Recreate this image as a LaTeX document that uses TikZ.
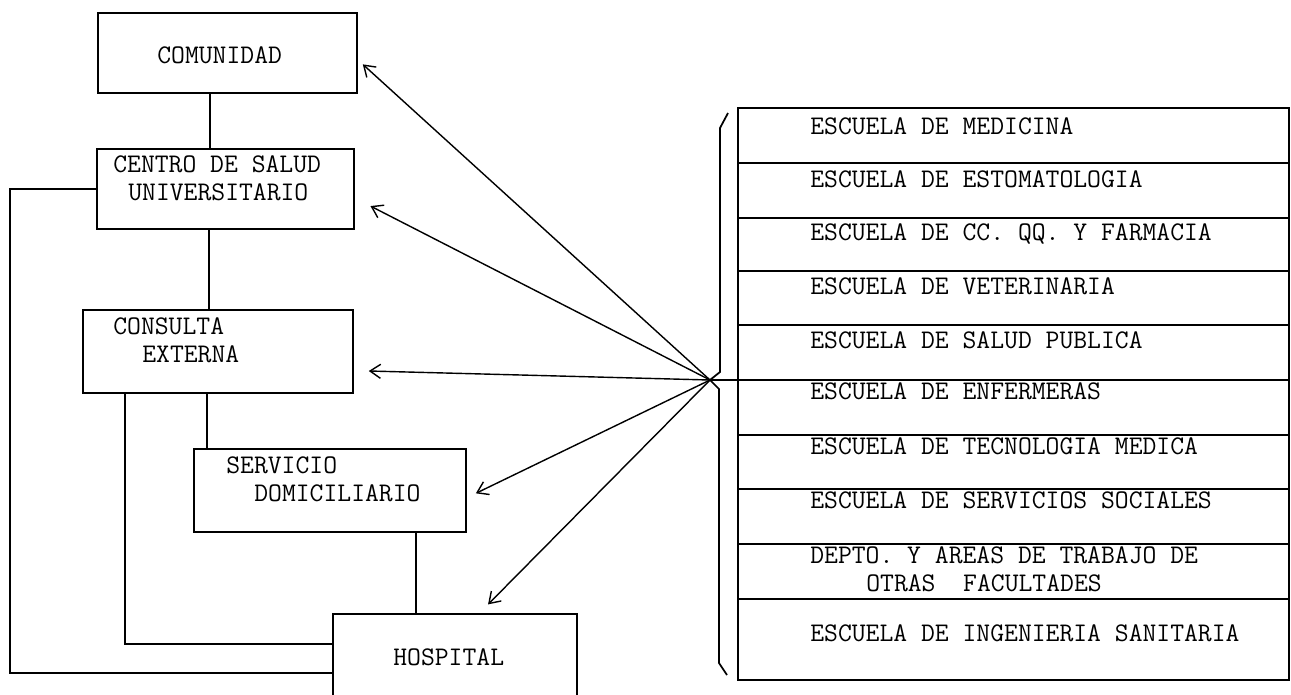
\documentclass[tikz,border=0pt]{standalone}
\usetikzlibrary{arrows.meta}
\newcommand{\maquina}{\fontsize{15.3pt}{16pt}\selectfont\ttfamily}
\tikzset{
  caja/.style={draw, line width=1pt, inner sep=0pt},
  rotulo/.style={font=\maquina, inner sep=0pt, anchor=base west},
  enlace/.style={line width=1pt},
  flecha/.style={->, line width=0.8pt},
}
\begin{document}
\begin{tikzpicture}[x=0.02cm, y=-0.02cm, >={Straight Barb[length=6pt,width=8pt]}]
\useasboundingbox (0,0) rectangle (1291,694);
\clip (0,0) rectangle (1291,694);
\node[caja, minimum width=5.18cm, minimum height=1.6cm] (comunidad) at (227.5,53) {};
\node[caja, minimum width=5.14cm, minimum height=1.6cm] (centro) at (225.5,189) {};
\node[caja, minimum width=5.4cm, minimum height=1.66cm] (consulta) at (218,351.5) {};
\node[caja, minimum width=5.44cm, minimum height=1.66cm] (servicio) at (330,490.5) {};
\node[caja, minimum width=4.88cm, minimum height=1.8cm] (hospital) at (455,659) {};
\node[rotulo] (tcomunidad) at (157,63) {COMUNIDAD};
\node[rotulo] (tcentro) at (113,172) {CENTRO DE SALUD};
\node[rotulo] (tuniv) at (128,200) {UNIVERSITARIO};
\node[rotulo] (tconsulta) at (113,334) {CONSULTA};
\node[rotulo] (texterna) at (142,362) {EXTERNA};
\node[rotulo] (tservicio) at (226,473) {SERVICIO};
\node[rotulo] (tdomic) at (254,501) {DOMICILIARIO};
\node[rotulo] (thospital) at (393,665) {HOSPITAL};
\draw[enlace] (comunidad.south -| 210,0) -- (centro.north -| 210,0);
\draw[enlace] (centro.south -| 209,0) -- (consulta.north -| 209,0);
\draw[enlace] (consulta.south -| 207,0) -- (servicio.north -| 207,0);
\draw[enlace] (servicio.south -| 416,0) -- (hospital.north -| 416,0);
\draw[enlace] (centro.west) -- ++(-86,0) |- (hospital.west |- 0,673);
\draw[enlace] (consulta.south -| 125,0) |- (hospital.west |- 0,644);
\coordinate (nudo) at (710,380);
\draw[flecha, shorten >=3.8pt] (nudo) -- (comunidad.-3);
\draw[flecha, shorten >=10pt] (nudo) -- (centro.-4);
\draw[flecha, shorten >=8.5pt] (nudo) -- (consulta.-8);
\draw[flecha, shorten >=5.7pt] (nudo) -- (servicio.-3);
\draw[flecha, shorten >=7pt] (nudo) -- (hospital.62);
\draw[enlace] (728,113) -- (720,128) -- (720,372) -- (nudo) -- (719,389) -- (719,663) -- (727,675);
\draw[enlace] (738,108) rectangle (1289,680);
\draw[enlace] (nudo) -- (1289,380);
\draw[enlace] (738,163) -- (1289,163) (738,218) -- (1289,218) (738,271) -- (1289,271)
  (738,325) -- (1289,325) (738,435) -- (1289,435) (738,489) -- (1289,489)
  (738,544) -- (1289,544) (738,599) -- (1289,599);
\node[rotulo] (medicina) at (810,134) {ESCUELA DE MEDICINA};
\node[rotulo] (estomat) at (810,187) {ESCUELA DE ESTOMATOLOGIA};
\node[rotulo] (farmacia) at (810,240) {ESCUELA DE CC. QQ. Y FARMACIA};
\node[rotulo] (veterin) at (810,294) {ESCUELA DE VETERINARIA};
\node[rotulo] (saludpub) at (810,348) {ESCUELA DE SALUD PUBLICA};
\node[rotulo] (enfermeras) at (810,399) {ESCUELA DE ENFERMERAS};
\node[rotulo] (tecnologia) at (810,454) {ESCUELA DE TECNOLOGIA MEDICA};
\node[rotulo] (sociales) at (810,508) {ESCUELA DE SERVICIOS SOCIALES};
\node[rotulo] (depto) at (810,563) {DEPTO. Y AREAS DE TRABAJO DE};
\node[rotulo] (otras) at (866,591) {OTRAS~~FACULTADES};
\node[rotulo] (ingenieria) at (810,641) {ESCUELA DE INGENIERIA SANITARIA};
\end{tikzpicture}
\end{document}
